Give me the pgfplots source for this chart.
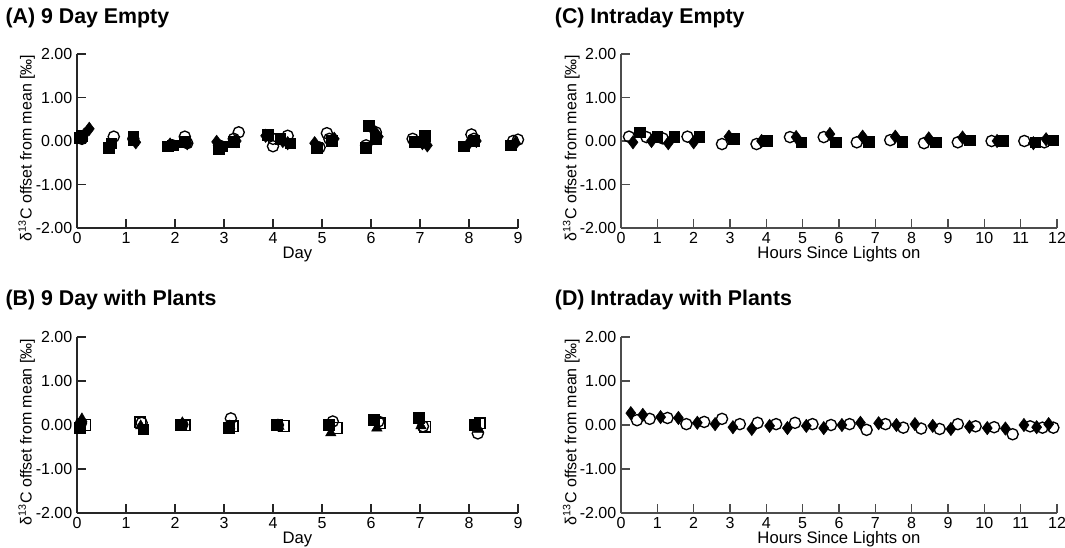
\documentclass[border=0pt]{standalone}
\usepackage{fontspec}
\setmainfont{Liberation Sans}
\usepackage{pgfplots}
\pgfplotsset{compat=1.18}

\pgfplotsset{
  panel/.style={
    scale only axis, clip=false,
    axis x line=bottom, axis y line=left,
    axis line style={-, line width=1pt, black!85},
    tick align=inside, major tick length=7pt,
    tick style={line width=0.9pt, black!85},
    ymin=-2, ymax=2, ytick={-2,-1,0,1,2},
    yticklabels={-2.00,-1.00,0.00,1.00,2.00},
    enlargelimits=false,
    /pgf/number format/assume math mode=true,
    tick label style={font=\fontsize{12}{14}\selectfont},
    ylabel={δ\textsuperscript{13}C offset from mean [‰]},
    every axis y label/.style={at={(axis description cs:-0.114,0.46)},rotate=90,anchor=center,
      font=\fontsize{12}{14}\selectfont},
    every axis x label/.style={at={(axis description cs:0.5,0)},yshift=-20pt,anchor=center,
      font=\fontsize{12.5}{14}\selectfont},
  },
  day/.style={panel, width=330.75pt, xmin=0, xmax=9, xtick={0,...,9}, xlabel={Day}},
  hour/.style={panel, width=327pt, xmin=0, xmax=12, xtick={0,...,12}, xlabel={Hours Since Lights on},
    axis line style={-, line width=1pt, black!70}, tick style={line width=0.9pt, black!70}},
  sq/.style={only marks, mark=square*, mark size=4pt, black},
  dm/.style={only marks, mark=diamond*, mark size=5pt, black},
  ci/.style={only marks, mark=o, mark size=4.2pt, black, line width=1pt},
  osq/.style={only marks, mark=square, mark size=4pt, black, line width=1pt},
  tr/.style={only marks, mark=triangle*, mark size=4.5pt, black},
}
\newcommand{\ttl}{\bfseries\fontsize{16}{18}\selectfont}

\begin{document}
\begin{tikzpicture}
\useasboundingbox (0,0) rectangle (798.75pt,-410.25pt);

% (A) 9 Day Empty
\node[anchor=west, inner sep=0pt] at (4pt,-13.5pt) {\ttl (A) 9 Day Empty};
\begin{axis}[day, at={(57.75pt,-171pt)}, anchor=south west, height=130.5pt]
\addplot[sq] coordinates {
  (0.05,0.08) (0.1,0.12) (0.65,-0.15) (0.7,-0.05) (1.15,0.1) (1.15,0.02)
  (1.85,-0.12) (1.95,-0.1) (2.2,-0.02) (2.9,-0.18) (2.95,-0.12) (3.2,-0.02)
  (3.9,0.15) (4.15,0.05) (4.35,-0.05) (4.9,-0.15) (5.2,0.0) (5.95,0.35)
  (5.9,-0.15) (6.1,0.05) (6.9,-0.02) (7.1,0.12) (7.9,-0.12) (8.1,0.0) (8.85,-0.1)};
\addplot[dm] coordinates {
  (0.25,0.28) (0.15,0.15) (0.7,-0.1) (1.2,-0.03) (1.9,-0.08) (2.25,-0.05)
  (2.85,-0.02) (3.25,0.0) (3.85,0.12) (4.2,0.0) (4.3,-0.05) (4.85,-0.05)
  (5.25,0.05) (6.05,0.25) (6.15,0.1) (7.05,-0.05) (7.15,-0.1) (8.0,-0.05)
  (8.15,0.0) (8.95,-0.05)};
\addplot[ci] coordinates {
  (0.1,0.05) (0.75,0.1) (1.15,0.05) (1.95,-0.1) (2.2,0.1) (2.25,-0.05)
  (2.9,-0.1) (3.3,0.2) (3.2,0.05) (4.0,-0.12) (4.3,0.12) (4.0,0.05)
  (5.1,0.18) (4.95,-0.15) (5.15,0.05) (6.1,0.2) (5.9,-0.1) (6.85,0.05)
  (7.05,0.0) (8.05,0.15) (8.1,0.05) (8.9,0.0) (9.0,0.03)};
\end{axis}

% (C) Intraday Empty
\node[anchor=west, inner sep=0pt] at (416pt,-13.5pt) {\ttl (C) Intraday Empty};
\begin{axis}[hour, at={(465.75pt,-171pt)}, anchor=south west, height=130.5pt]
\addplot[ci] coordinates {
  (0.22,0.1) (0.7,0.09) (1.15,0.06) (1.83,0.1) (2.78,-0.07) (3.73,-0.07)
  (4.65,0.09) (5.58,0.09) (6.49,-0.03) (7.41,0.02) (8.34,-0.05) (9.27,-0.03)
  (10.2,0.0) (11.1,0.0) (11.65,-0.03)};
\addplot[dm] coordinates {
  (0.33,-0.03) (0.84,0.0) (1.3,-0.05) (2.0,-0.03) (2.97,0.1) (3.87,0.0)
  (4.82,0.09) (5.75,0.16) (6.65,0.1) (7.55,0.1) (8.47,0.06) (9.4,0.08)
  (10.35,0.0) (11.35,-0.05) (11.7,0.04)};
\addplot[sq] coordinates {
  (0.52,0.2) (1.0,0.1) (1.47,0.1) (2.15,0.1) (3.1,0.05) (4.03,0.0)
  (4.96,-0.03) (5.92,-0.03) (6.81,-0.01) (7.74,-0.01) (8.67,-0.03) (9.6,0.02)
  (10.5,0.0) (11.4,-0.03) (11.9,0.02)};
\end{axis}

% (B) 9 Day with Plants
\node[anchor=west, inner sep=0pt] at (4pt,-225pt) {\ttl (B) 9 Day with Plants};
\begin{axis}[day, at={(57.75pt,-384.75pt)}, anchor=south west, height=132pt]
\addplot[tr] coordinates {
  (0.1,0.14) (1.3,-0.02) (2.15,0.05) (3.12,-0.02) (4.12,-0.03) (5.18,-0.18)
  (6.12,-0.07) (7.02,-0.02) (8.2,-0.1)};
\addplot[ci] coordinates {
  (0.08,0.04) (1.32,0.05) (2.15,0.01) (3.14,0.15) (4.1,0.0) (5.22,0.08)
  (6.15,0.08) (7.06,-0.03) (8.18,-0.19)};
\addplot[osq] coordinates {
  (0.16,0.0) (1.29,0.06) (2.2,-0.01) (3.18,-0.03) (4.22,-0.02) (5.3,-0.07)
  (6.18,0.04) (7.1,-0.04) (8.22,0.04)};
\addplot[sq] coordinates {
  (0.06,-0.07) (1.35,-0.1) (2.12,0.0) (3.1,-0.07) (4.08,0.0) (5.14,0.0)
  (6.06,0.12) (6.98,0.16) (8.12,0.0)};
\end{axis}

% (D) Intraday with Plants
\node[anchor=west, inner sep=0pt] at (416pt,-225pt) {\ttl (D) Intraday with Plants};
\begin{axis}[hour, at={(465.75pt,-384.75pt)}, anchor=south west, height=132pt]
\addplot[dm] coordinates {
  (0.27,0.27) (0.6,0.23) (1.09,0.18) (1.58,0.16) (2.1,0.05) (2.59,0.02)
  (3.08,-0.05) (3.6,-0.09) (4.09,-0.02) (4.58,-0.07) (5.1,-0.02) (5.58,-0.07)
  (6.08,0.0) (6.59,0.05) (7.09,0.04) (7.58,0.0) (8.09,0.02) (8.58,-0.02)
  (9.08,-0.09) (9.59,-0.04) (10.08,-0.07) (10.58,-0.08) (11.09,0.0)
  (11.44,-0.05) (11.77,0.02)};
\addplot[ci] coordinates {
  (0.44,0.11) (0.79,0.14) (1.28,0.16) (1.8,0.02) (2.29,0.07) (2.78,0.14)
  (3.27,0.02) (3.76,0.05) (4.27,0.02) (4.79,0.05) (5.27,0.02) (5.78,0.0)
  (6.29,0.02) (6.76,-0.11) (7.28,0.02) (7.77,-0.06) (8.26,-0.08) (8.77,-0.09)
  (9.27,0.02) (9.76,-0.03) (10.27,-0.05) (10.78,-0.21) (11.26,-0.03)
  (11.6,-0.06) (11.9,-0.06)};
\end{axis}
\end{tikzpicture}
\end{document}
